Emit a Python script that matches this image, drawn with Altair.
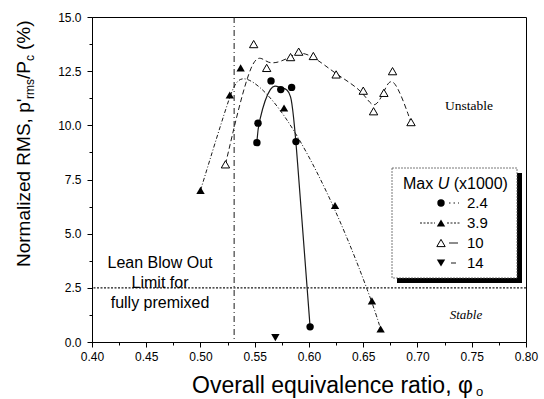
import altair as alt
import pandas as pd

# ---- data ----
series_names = ["2.4", "3.9", "10", "14"]

phi_24 = [0.552, 0.553, 0.565, 0.574, 0.584, 0.588, 0.601]
rms_24 = [9.2, 10.1, 12.05, 11.65, 11.75, 9.25, 0.7]

phi_39 = [0.500, 0.527, 0.537, 0.577, 0.624, 0.658, 0.666]
rms_39 = [7.0, 11.4, 12.65, 10.8, 6.3, 1.9, 0.6]

phi_10 = [0.523, 0.549, 0.561, 0.583, 0.5905, 0.604, 0.625, 0.650, 0.6595, 0.669, 0.677, 0.694]
rms_10 = [8.2, 13.75, 12.65, 13.15, 13.4, 13.2, 12.35, 11.6, 10.65, 11.5, 12.5, 10.15]

phi_14 = [0.569]
rms_14 = [0.2]

lbo_phi = [0.531]          # vertical dash-dot reference line
stable_limit = [2.5]       # horizontal dotted line

x_ticks = [0.400, 0.425, 0.450, 0.475, 0.500, 0.525, 0.550, 0.575, 0.600,
           0.625, 0.650, 0.675, 0.700, 0.725, 0.750, 0.775, 0.800]
y_ticks = [0, 1.25, 2.5, 3.75, 5, 6.25, 7.5, 8.75, 10, 11.25, 12.5, 13.75, 15]

notes_text = ["Lean Blow Out", "Limit for", "fully premixed", "Unstable", "Stable"]
notes_phi = [0.4627, 0.4627, 0.4627, 0.7475, 0.7447]
notes_rms = [3.65, 2.72, 1.80, 10.89, 1.25]

FONT = "Liberation Sans"
SERIF = "Liberation Serif"
INK = "#1a1a1a"

def df(px, py):
    return pd.DataFrame({"phi": px, "rms": py})

x_major = "abs(datum.value*20 - round(datum.value*20)) < 1e-6"
y_major = "abs(datum.value/2.5 - round(datum.value/2.5)) < 1e-6"

X = alt.X("phi:Q", title=None,
          scale=alt.Scale(domain=[0.4, 0.8], nice=False, zero=False),
          axis=alt.Axis(values=x_ticks,
                        labelExpr=f"{x_major} ? format(datum.value, '.2f') : ''",
                        tickSize={"condition": {"test": x_major, "value": 5}, "value": 3},
                        labelPadding=4, labelFlush=False, labelOverlap=False))
Y = alt.Y("rms:Q", title=None,
          scale=alt.Scale(domain=[0, 15], nice=False),
          axis=alt.Axis(values=y_ticks,
                        labelExpr=f"{y_major} ? format(datum.value, '.1f') : ''",
                        tickSize={"condition": {"test": y_major, "value": 5}, "value": 3},
                        labelPadding=6, labelOverlap=False))

layers = []

# reference lines
layers.append(alt.Chart(pd.DataFrame({"phi": lbo_phi})).mark_rule(
    color=INK, strokeWidth=1, strokeDash=[6, 3, 1, 3]).encode(x=X))
layers.append(alt.Chart(pd.DataFrame({"rms": stable_limit})).mark_rule(
    color=INK, strokeWidth=1.2, strokeDash=[2, 1.5]).encode(y=Y))

# fitted curves
layers.append(alt.Chart(df(phi_24, rms_24)).mark_line(
    interpolate="basis", color=INK, strokeWidth=1.2).encode(x=X, y=Y))
layers.append(alt.Chart(df(phi_39, rms_39)).mark_line(
    interpolate="basis", color=INK, strokeWidth=1, strokeDash=[4, 2, 1, 2]).encode(x=X, y=Y))
layers.append(alt.Chart(df(phi_10, rms_10)).mark_line(
    interpolate="basis", color=INK, strokeWidth=1, strokeDash=[5, 3]).encode(x=X, y=Y))

# markers
layers.append(alt.Chart(df(phi_24, rms_24)).mark_point(
    shape="circle", filled=True, size=55, color="black", opacity=1).encode(x=X, y=Y))
layers.append(alt.Chart(df(phi_39, rms_39)).mark_point(
    shape="triangle-up", filled=True, size=70, color="black", opacity=1).encode(x=X, y=Y))
layers.append(alt.Chart(df(phi_10, rms_10)).mark_point(
    shape="triangle-up", filled=True, size=70, fill="white", stroke="black",
    strokeWidth=1, opacity=1).encode(x=X, y=Y))
layers.append(alt.Chart(df(phi_14, rms_14)).mark_point(
    shape="triangle-down", filled=True, size=70, color="black", opacity=1).encode(x=X, y=Y))

# annotations
notes = pd.DataFrame({"phi": notes_phi, "rms": notes_rms, "t": notes_text})
layers.append(alt.Chart(notes.iloc[:3]).mark_text(
    font=FONT, fontSize=16, color="black", baseline="middle", align="center").encode(
    x=X, y=Y, text="t:N"))
layers.append(alt.Chart(notes.iloc[3:4]).mark_text(
    font=SERIF, fontSize=13.5, color="black", baseline="middle", align="center").encode(
    x=X, y=Y, text="t:N"))
layers.append(alt.Chart(notes.iloc[4:5]).mark_text(
    font=SERIF, fontSize=13, fontStyle="italic", color="black", baseline="middle",
    align="center").encode(x=X, y=Y, text="t:N"))

one = alt.Data(values=[{"a": 1}])

def ptext(text, x, y, size, angle=0, align="left", baseline="middle", style="normal"):
    return alt.Chart(one).mark_text(
        text=text, font=FONT, fontSize=size, angle=angle, align=align,
        baseline=baseline, fontStyle=style, color="black").encode(
        x=alt.value(x), y=alt.value(y))

# y-axis title with subscripts (plot-area pixel coordinates)
layers.append(ptext("Normalized RMS, p'", -68, 250, 19, angle=270))
layers.append(ptext("rms", -62, 82, 12, angle=270))
layers.append(ptext("/P", -68, 62, 19, angle=270))
layers.append(ptext("c", -62, 44, 12, angle=270))
layers.append(ptext("(%)", -68, 33, 19, angle=270))

# x-axis title with subscript
layers.append(ptext("Overall equivalence ratio, \u03c6", 100, 376, 23, baseline="alphabetic"))
layers.append(ptext("o", 384, 379, 13, baseline="alphabetic"))

# legend (drawn by hand: box with heavy shadow)
layers.append(alt.Chart(one).mark_rect(color="black").encode(
    x=alt.value(305), x2=alt.value(430), y=alt.value(156), y2=alt.value(266)))
layers.append(alt.Chart(one).mark_rect(fill="white", stroke="#555", strokeWidth=0.8,
                                       strokeDash=[2, 1]).encode(
    x=alt.value(300), x2=alt.value(425), y=alt.value(151), y2=alt.value(261)))
layers.append(ptext("Max", 311, 172, 16, baseline="alphabetic"))
layers.append(ptext("U", 345.7, 172, 16, baseline="alphabetic", style="italic"))
layers.append(ptext("(x1000)", 361.7, 172, 16, baseline="alphabetic"))

leg_y = [186, 206, 226, 246]
sym_x = 349
# line samples
layers.append(alt.Chart(one).mark_rule(color=INK, strokeWidth=1, strokeDash=[1.5, 3]).encode(
    x=alt.value(357), x2=alt.value(367), y=alt.value(leg_y[0])))
layers.append(alt.Chart(one).mark_rule(color=INK, strokeWidth=1, strokeDash=[2, 1.5]).encode(
    x=alt.value(328), x2=alt.value(343), y=alt.value(leg_y[1])))
layers.append(alt.Chart(one).mark_rule(color=INK, strokeWidth=1, strokeDash=[2, 1.5]).encode(
    x=alt.value(355), x2=alt.value(369), y=alt.value(leg_y[1])))
layers.append(alt.Chart(one).mark_rule(color=INK, strokeWidth=1).encode(
    x=alt.value(357), x2=alt.value(366), y=alt.value(leg_y[2])))
layers.append(alt.Chart(one).mark_rule(color=INK, strokeWidth=1).encode(
    x=alt.value(359), x2=alt.value(364), y=alt.value(leg_y[3])))
# symbols
layers.append(alt.Chart(one).mark_point(shape="circle", filled=True, size=55, color="black",
                                        opacity=1).encode(x=alt.value(sym_x), y=alt.value(leg_y[0])))
layers.append(alt.Chart(one).mark_point(shape="triangle-up", filled=True, size=70, color="black",
                                        opacity=1).encode(x=alt.value(sym_x), y=alt.value(leg_y[1])))
layers.append(alt.Chart(one).mark_point(shape="triangle-up", filled=True, size=70, fill="white",
                                        stroke="black", strokeWidth=1, opacity=1).encode(
    x=alt.value(sym_x), y=alt.value(leg_y[2])))
layers.append(alt.Chart(one).mark_point(shape="triangle-down", filled=True, size=70, color="black",
                                        opacity=1).encode(x=alt.value(sym_x), y=alt.value(leg_y[3])))
for name, yy in zip(series_names, leg_y):
    layers.append(ptext(name, 375, yy, 15))

chart = alt.layer(*layers).properties(
    width=434, height=325,
    autosize=alt.AutoSizeParams(type="none"),
    padding={"left": 92, "top": 17, "right": 18, "bottom": 57},
).configure_view(stroke="black", strokeWidth=1).configure_axis(
    grid=False, labelFont=FONT, labelFontSize=12, labelColor="black",
    domainColor="black", domainWidth=1, tickColor="black", tickWidth=1,
)

chart.save("out.html", embed_options={"renderer": "svg", "actions": False})
